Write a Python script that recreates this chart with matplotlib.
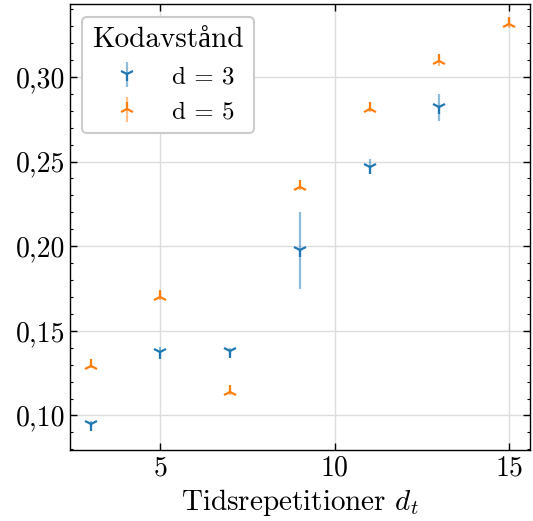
import matplotlib
matplotlib.use('Agg')
import matplotlib.pyplot as plt
from matplotlib.font_manager import FontProperties
from matplotlib.ticker import FuncFormatter, MultipleLocator

# data
x_d3 = [3, 5, 7, 9, 11, 13]
y_d3 = [0.095, 0.1375, 0.138, 0.1975, 0.247, 0.282]
err_d3 = [0.002, 0.003, 0.002, 0.023, 0.0045, 0.008]

x_d5 = [3, 5, 7, 9, 11, 13, 15]
y_d5 = [0.129, 0.170, 0.114, 0.235, 0.2810, 0.3095, 0.331]
err_d5 = [0.001, 0.002, 0.002, 0.002, 0.002, 0.003, 0.002]

plt.rcParams.update({
    'font.family': 'serif',
    'font.serif': ['cmr10'],
    'mathtext.fontset': 'cm',
    'axes.formatter.use_mathtext': True,
    'font.size': 20,
})

fig = plt.figure(figsize=(5.33, 5.21), dpi=100)
ax = fig.add_axes([0.131, 0.136, 0.863, 0.856])

ax.errorbar(x_d3, y_d3, yerr=err_d3, fmt='1', color='#1f77b4', ecolor=(0.12, 0.47, 0.71, 0.5),
            elinewidth=1.6, markersize=10, markeredgewidth=1.6, label='d = 3', zorder=3)
ax.errorbar(x_d5, y_d5, yerr=err_d5, fmt='2', color='#ff7f0e', ecolor=(1.0, 0.5, 0.05, 0.5),
            elinewidth=1.6, markersize=10, markeredgewidth=1.6, label='d = 5', zorder=3)

ax.grid(True, color='#dddddd', linewidth=1.0, zorder=0)
ax.set_axisbelow(True)
ax.set_ylim(0.0795, 0.343)

ax.xaxis.set_major_locator(MultipleLocator(5))
ax.yaxis.set_major_locator(MultipleLocator(0.05))
ax.yaxis.set_minor_locator(MultipleLocator(0.01))
ax.yaxis.set_major_formatter(FuncFormatter(lambda v, p: f'{v:.2f}'.replace('.', ',')))

ax.tick_params(which='both', direction='in', top=True, right=True, labelsize=20)
ax.tick_params(which='major', length=5, width=1.0)
ax.tick_params(which='minor', length=2.5, width=0.8)
ax.tick_params(axis='x', which='minor', bottom=False, top=False)
for s in ax.spines.values():
    s.set_linewidth(1.0)

ax.set_xlabel(r'Tidsrepetitioner $d_t$', fontsize=21)

# cmr10 has no å, so let Liberation Serif fill in that glyph
title_font = FontProperties(family=['cmr10', 'Liberation Serif'], size=21)
leg = ax.legend(title='Kodavstånd', title_fontproperties=title_font, loc='upper left',
                fontsize=18, framealpha=1.0, edgecolor='#cccccc', fancybox=True)
leg.get_frame().set_linewidth(1.5)

fig.savefig('out.png', dpi=100)
